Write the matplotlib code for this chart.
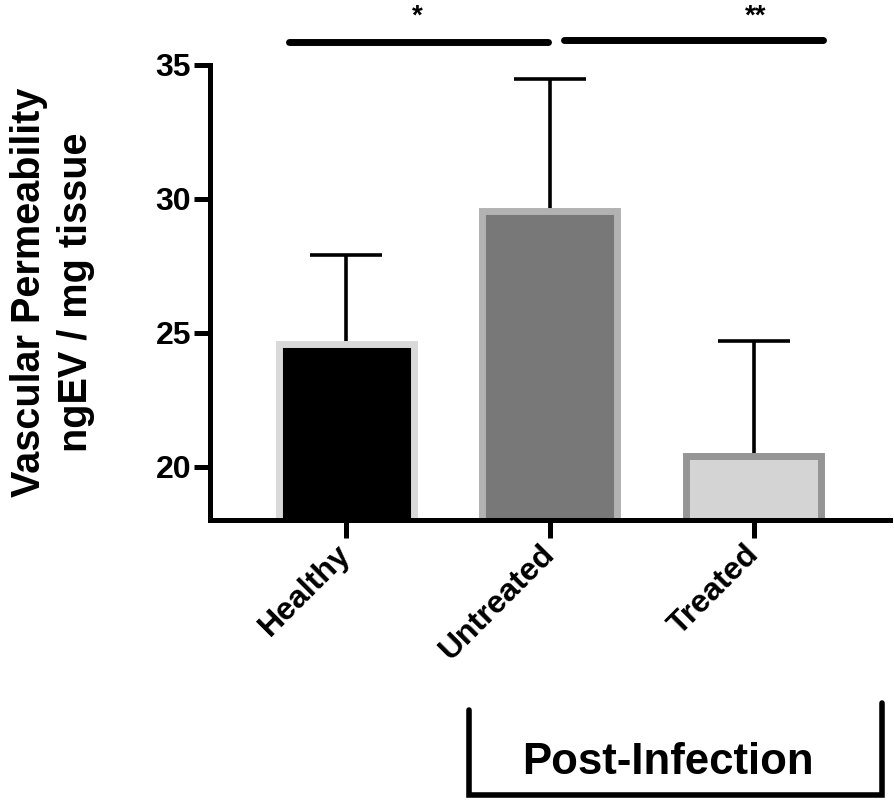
import numpy as np
import matplotlib.pyplot as plt
import matplotlib.transforms as mtransforms

plt.rcParams['font.family'] = ['Liberation Sans', 'DejaVu Sans']
plt.rcParams['font.weight'] = 'bold'

groups = ['Healthy', 'Untreated', 'Treated']
means = [24.6, 29.55, 20.4]
upper_err = [3.3, 4.93, 4.3]
fill_colors = ['#000000', '#787878', '#d4d4d4']
edge_colors = ['#d9d9d9', '#b2b2b2', '#959595']

fig = plt.figure(figsize=(8.94, 8.01), dpi=100)
ax = fig.add_axes([0.2349, 0.3514, 0.7606, 0.5675])

x = np.arange(len(groups))
ax.bar(x, means, width=0.662, color=fill_colors, edgecolor=edge_colors,
       linewidth=5, zorder=2)
ax.errorbar(x, means, yerr=[np.zeros(3), upper_err], fmt='none',
            ecolor='black', elinewidth=2.6, capsize=26, capthick=2.6, zorder=1)

ax.set_ylim(18.04, 35)
ax.set_xlim(-0.667, 2.667)
ax.set_yticks([20, 25, 30, 35])
ax.set_xticks(x)
ax.set_xticklabels(groups, rotation=45, ha='right', va='center',
                   rotation_mode='anchor', fontsize=23, fontweight='bold')
shift = mtransforms.ScaledTranslation(0.15, 0, fig.dpi_scale_trans)
for lab in ax.get_xticklabels():
    lab.set_transform(lab.get_transform() + shift)
for lab in ax.get_yticklabels():
    lab.set_fontsize(23)
    lab.set_fontweight('bold')

for s in ['top', 'right']:
    ax.spines[s].set_visible(False)
for s in ['left', 'bottom']:
    ax.spines[s].set_linewidth(3.6)
ax.tick_params(axis='y', length=11.5, width=3.6, pad=2)
ax.tick_params(axis='x', length=13, width=3.6, pad=9)

ax.set_ylabel('Vascular Permeability\nngEV / mg tissue', fontsize=28.5,
              fontweight='bold', linespacing=1.3)
ax.yaxis.set_label_coords(-0.169, 0.5)

# significance bars
ax.plot([-0.28, 0.99], [35.86, 35.86], color='black', lw=5,
        solid_capstyle='round', clip_on=False)
ax.plot([1.07, 2.34], [35.93, 35.93], color='black', lw=5,
        solid_capstyle='round', clip_on=False)
ax.text(0.35, 36.8, '*', ha='center', va='center', fontsize=20, fontweight='bold')
ax.text(2.01, 36.8, '**', ha='center', va='center', fontsize=20, fontweight='bold')

# post-infection bracket
ax.plot([0.603, 0.603, 2.63, 2.63], [10.93, 7.76, 7.76, 11.19], color='black',
        lw=4, clip_on=False, solid_capstyle='round', solid_joinstyle='miter')
ax.text(1.578, 8.96, 'Post-Infection', ha='center', va='center', fontsize=31.5,
        fontweight='bold')

fig.savefig('out.png', dpi=100)
